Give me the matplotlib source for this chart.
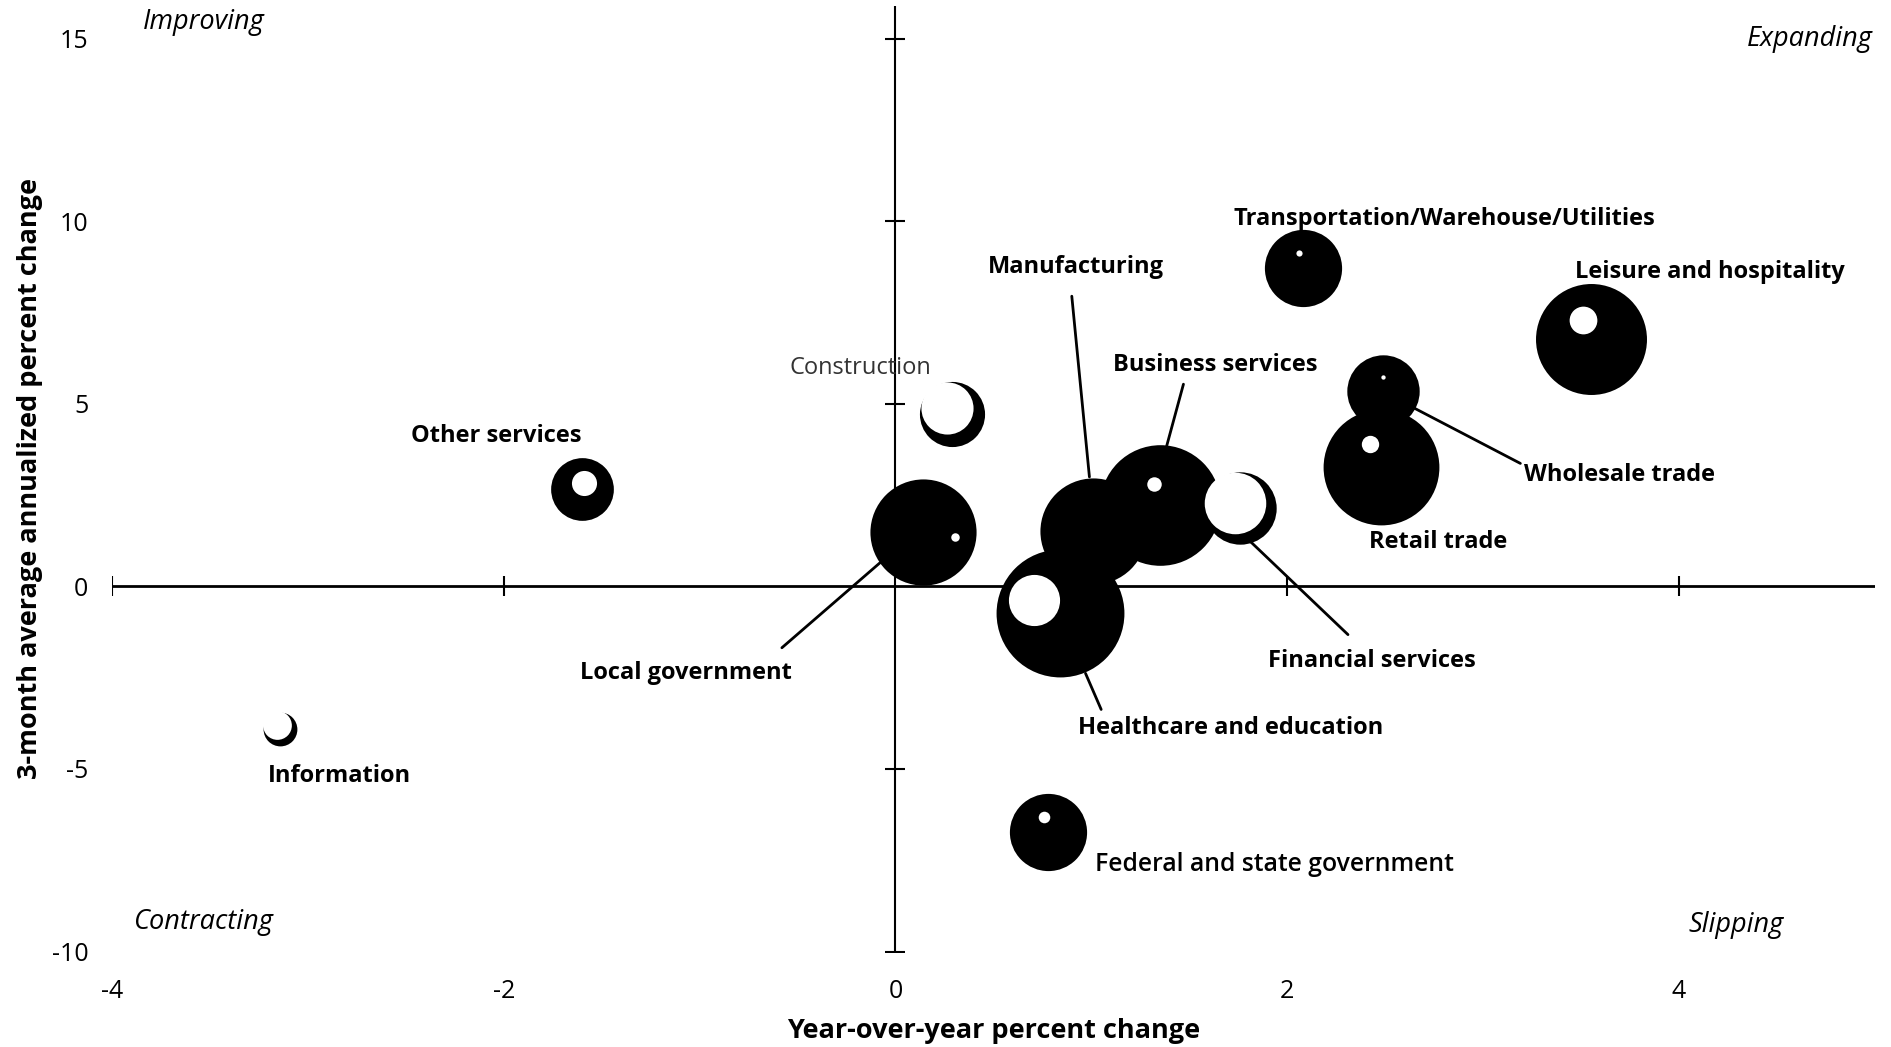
import matplotlib
matplotlib.use("Agg")
import matplotlib.pyplot as plt
from matplotlib.transforms import ScaledTranslation

plt.rcParams['font.family'] = ['Open Sans', 'DejaVu Sans']
plt.rcParams['axes.unicode_minus'] = False

# Sector employment growth: year-over-year vs 3-month annualized
sectors = ['Information', 'Other services', 'Construction', 'Local government',
           'Manufacturing', 'Business services', 'Healthcare and education',
           'Financial services', 'Transportation/Warehouse/Utilities',
           'Wholesale trade', 'Retail trade', 'Leisure and hospitality',
           'Federal and state government']
yoy = [-3.14, -1.60, 0.29, 0.14, 1.01, 1.35, 0.84, 1.76, 2.08, 2.49, 2.48, 3.55, 0.78]
three_month = [-3.9, 2.67, 4.72, 1.49, 1.52, 2.24, -0.73, 2.15, 8.71, 5.35, 3.27, 6.77, -6.73]
# relative bubble size (sector employment)
emp_size = [14, 26, 27, 44, 44, 50, 53, 30, 32, 30, 48, 46, 32]

x_ticks = [-4, -2, 0, 2, 4]
y_ticks = [-10, -5, 0, 5, 10, 15]

fig = plt.figure(figsize=(18.91, 10.47), dpi=100)
ax = fig.add_axes([0.0592, 0.0912, 0.9323, 0.9031])
ax.set_xlim(-4, 5)
ax.set_ylim(-10, 15.9)
for s in ax.spines.values():
    s.set_visible(False)

# axes drawn through the origin with cross ticks
ax.plot([-4, 5], [0, 0], color='black', lw=2, zorder=1)
ax.plot([0, 0], [-10, 15.9], color='black', lw=1.5, zorder=1)
ax.plot([t for t in x_ticks if t != 0], [0] * 4, ls='none', marker='|',
        ms=14, mew=1.5, color='black', zorder=1)
ax.plot([0] * 5, [t for t in y_ticks if t != 0], ls='none', marker='_',
        ms=14, mew=1.5, color='black', zorder=1)

ax.set_xticks(x_ticks)
ax.set_yticks(y_ticks)
ax.tick_params(length=0, labelsize=18)
ax.tick_params(axis='x', pad=20)
ax.tick_params(axis='y', pad=17)

# highlight spot: (fraction of radius, x offset, y offset) as fraction of radius
shine = {
    'Information': (0.85, -0.2, 0.25), 'Other services': (0.4, 0.05, 0.2),
    'Construction': (0.8, -0.15, 0.2), 'Local government': (0.08, 0.6, -0.1),
    'Manufacturing': (0.0, 0, 0), 'Business services': (0.12, -0.1, 0.35),
    'Healthcare and education': (0.4, -0.4, 0.2), 'Financial services': (0.85, -0.15, 0.15),
    'Transportation/Warehouse/Utilities': (0.08, -0.1, 0.4), 'Wholesale trade': (0.06, 0.0, 0.4),
    'Retail trade': (0.15, -0.2, 0.4), 'Leisure and hospitality': (0.25, -0.15, 0.35),
    'Federal and state government': (0.15, -0.1, 0.4),
}
for i in range(len(sectors)):
    d_pt = emp_size[i] * 1.737
    ax.scatter(yoy[i], three_month[i], s=d_pt ** 2, color='black', lw=0, zorder=3 + i * 0.01)
    f, ox, oy = shine[sectors[i]]
    if f > 0:
        r = d_pt / 2
        tr = ax.transData + ScaledTranslation(ox * r / 72, oy * r / 72, fig.dpi_scale_trans)
        ax.scatter(yoy[i], three_month[i], s=(d_pt * f) ** 2, color='white', lw=0,
                   transform=tr, zorder=3 + i * 0.01 + 0.005)

lab = dict(fontsize=17, fontweight='bold', zorder=5)
lead = dict(arrowstyle='-', color='black', lw=2, shrinkA=0, shrinkB=0)

ax.text(2.80, 10.07, 'Transportation/Warehouse/Utilities', ha='center', va='center', **lab)
ax.text(3.47, 8.61, 'Leisure and hospitality', ha='left', va='center', **lab)
ax.text(0.92, 8.75, 'Manufacturing', ha='center', va='center', **lab)
ax.annotate('', xy=(0.99, 3.0), xytext=(0.90, 7.95), arrowprops=lead, zorder=2)
ax.text(1.63, 6.07, 'Business services', ha='center', va='center', **lab)
ax.annotate('', xy=(1.38, 3.76), xytext=(1.47, 5.54), arrowprops=lead, zorder=2)
ax.text(-0.18, 5.97, 'Construction', ha='center', va='center', fontsize=17,
        color='#333333', zorder=5)
ax.text(-2.04, 4.13, 'Other services', ha='center', va='center', **lab)
ax.text(3.21, 3.04, 'Wholesale trade', ha='left', va='center', **lab)
ax.annotate('', xy=(2.65, 4.88), xytext=(3.19, 3.37), arrowprops=lead, zorder=2)
ax.text(2.77, 1.22, 'Retail trade', ha='center', va='center', **lab)
ax.text(-1.07, -2.38, 'Local government', ha='center', va='center', **lab)
ax.annotate('', xy=(-0.055, 0.76), xytext=(-0.58, -1.68), arrowprops=lead, zorder=2)
ax.text(2.43, -2.05, 'Financial services', ha='center', va='center', **lab)
ax.annotate('', xy=(1.80, 1.29), xytext=(2.31, -1.32), arrowprops=lead, zorder=2)
ax.text(1.71, -3.89, 'Healthcare and education', ha='center', va='center', **lab)
ax.annotate('', xy=(0.97, -2.38), xytext=(1.05, -3.37), arrowprops=lead, zorder=2)
ax.text(-2.84, -5.18, 'Information', ha='center', va='center', **lab)
ax.text(1.02, -7.62, 'Federal and state government', ha='left', va='center',
        fontsize=17.8, fontweight='semibold', zorder=5)

quad = dict(fontsize=19.5, style='italic', va='center')
ax.text(-3.84, 15.45, 'Improving', ha='left', **quad)
ax.text(4.99, 15.0, 'Expanding', ha='right', **quad)
ax.text(-3.89, -9.2, 'Contracting', ha='left', **quad)
ax.text(4.05, -9.27, 'Slipping', ha='left', **quad)

ax.set_xlabel('Year-over-year percent change', fontsize=19.5, fontweight='bold', labelpad=10)
ax.set_ylabel('3-month average annualized percent change', fontsize=19.5,
              fontweight='bold', labelpad=6)

fig.savefig('out.png', dpi=100)
